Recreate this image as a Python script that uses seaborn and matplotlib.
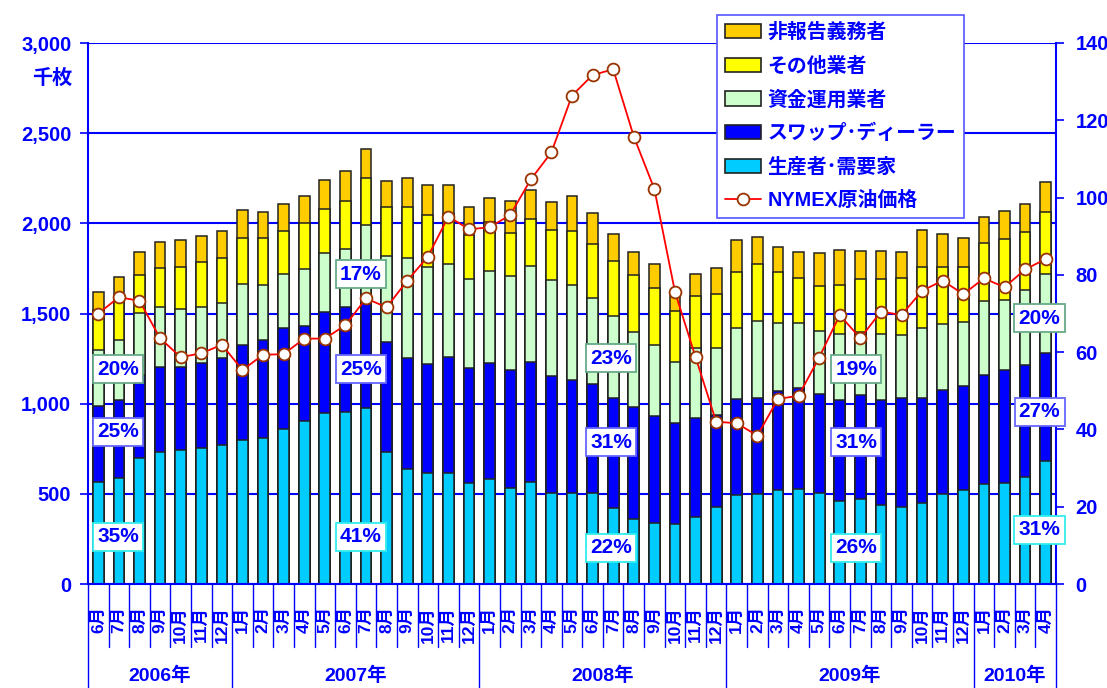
import numpy as np
import pandas as pd
import matplotlib
matplotlib.use("Agg")
import matplotlib.pyplot as plt
import matplotlib.transforms as mtrans
from matplotlib.patches import Patch
from matplotlib.lines import Line2D
import seaborn as sns

# ---------------- data ----------------
months = ["6月", "7月", "8月", "9月", "10月", "11月", "12月"] + \
         [f"{m}月" for m in range(1, 13)] * 3 + ["1月", "2月", "3月", "4月"]
years = ["2006年", "2007年", "2008年", "2009年", "2010年"]
year_counts = [7, 12, 12, 12, 4]

producers = [567, 590, 700, 730, 743, 756, 769, 797, 810, 859, 902, 948, 954, 974,
             732, 638, 617, 617, 562, 582, 531, 564, 503, 503, 503, 423, 359, 340,
             331, 373, 429, 493, 497, 521, 527, 503, 460, 470, 438, 429, 451, 499,
             521, 555, 558, 595, 684]
swap_dealers = [420, 430, 459, 475, 462, 471, 482, 528, 545, 559, 529, 560, 584, 596,
                612, 617, 601, 640, 634, 643, 656, 667, 650, 630, 604, 610, 621, 592,
                564, 546, 508, 532, 533, 549, 558, 549, 559, 578, 581, 602, 579, 575,
                575, 604, 629, 619, 599]
money_managers = [311, 333, 342, 329, 322, 311, 305, 338, 303, 301, 317, 329, 318, 421,
                  475, 554, 542, 516, 494, 512, 521, 532, 533, 525, 477, 455, 419, 393,
                  338, 388, 370, 396, 428, 375, 360, 353, 367, 351, 366, 350, 388, 368,
                  359, 410, 388, 416, 434]
other_reportables = [222, 237, 212, 216, 233, 249, 250, 257, 262, 238, 252, 242, 268, 262,
                     270, 283, 286, 277, 245, 272, 237, 261, 277, 299, 301, 303, 314, 315,
                     283, 290, 303, 311, 316, 283, 254, 247, 272, 291, 308, 314, 338, 314,
                     305, 324, 336, 324, 348]
nonreportables = [101, 111, 130, 145, 149, 141, 149, 156, 145, 148, 150, 159, 164, 159,
                  146, 158, 165, 164, 154, 133, 181, 159, 157, 196, 170, 150, 126, 133,
                  105, 120, 144, 175, 148, 139, 140, 183, 194, 155, 155, 146, 207, 183,
                  157, 144, 157, 151, 166]
crude_price = [70.0, 74.2, 73.3, 63.6, 58.7, 59.7, 61.9, 55.4, 59.3, 59.5, 63.5, 63.5,
               67.0, 73.9, 71.6, 78.5, 84.7, 95.1, 91.8, 92.3, 95.5, 104.7, 111.7, 126.4,
               131.7, 133.2, 115.8, 102.2, 75.6, 58.7, 42.0, 41.6, 38.4, 47.9, 48.7, 58.6,
               69.6, 63.6, 70.5, 69.6, 75.9, 78.5, 75.0, 79.1, 76.8, 81.4, 84.1]

series_names = ["非報告義務者", "その他業者", "資金運用業者", "スワップ･ディーラー", "生産者･需要家"]
price_name = "NYMEX原油価格"

# percentage callouts: (text, x index, y value, edge colour)
callouts = [("35%", 0.96, 261, "#33EEEE"), ("25%", 0.96, 843, "#6666FF"), ("20%", 0.96, 1192, "#66AA88"),
            ("41%", 12.75, 261, "#33EEEE"), ("25%", 12.75, 1192, "#6666FF"), ("17%", 12.75, 1719, "#66AA88"),
            ("22%", 24.9, 200, "#33EEEE"), ("31%", 24.9, 787, "#6666FF"), ("23%", 24.9, 1253, "#66AA88"),
            ("26%", 36.8, 200, "#33EEEE"), ("31%", 36.8, 787, "#6666FF"), ("19%", 36.8, 1192, "#66AA88"),
            ("31%", 45.7, 300, "#33EEEE"), ("27%", 45.7, 954, "#6666FF"), ("20%", 45.7, 1475, "#66AA88")]

# ---------------- style ----------------
sns.set_theme(style="white")
plt.rcParams["font.family"] = ["Liberation Sans", "Noto Sans CJK JP"]
plt.rcParams["font.weight"] = "bold"
BLUE = "#0000FF"
colors = ["#FFCC00", "#FFFF00", "#CCFFCC", "#0000FF", "#00CCFF"]

keys = [f"k{i:02d}" for i in range(len(months))]
df = pd.DataFrame({"key": keys, "p": producers, "s": swap_dealers, "m": money_managers,
                   "o": other_reportables, "n": nonreportables})
df["c1"] = df["p"]
df["c2"] = df["c1"] + df["s"]
df["c3"] = df["c2"] + df["m"]
df["c4"] = df["c3"] + df["o"]
df["c5"] = df["c4"] + df["n"]

fig = plt.figure(figsize=(11.07, 6.88), dpi=100)
ax = fig.add_axes([88 / 1107, 104 / 688, 968 / 1107, 541 / 688])

for col, colr in zip(["c5", "c4", "c3", "c2", "c1"], colors):
    sns.barplot(data=df, x="key", y=col, order=keys, color=colr, saturation=1,
                width=0.52, edgecolor="#222222", linewidth=1.1, errorbar=None, ax=ax)

ax.set_ylim(0, 3000)
ax.set_xlim(-0.5, len(keys) - 0.5)
ax.set_yticks(np.arange(0, 3001, 500))
ax.set_yticklabels([f"{v:,}" for v in range(0, 3001, 500)], color=BLUE, fontsize=14.5, fontweight="bold")
ax.yaxis.grid(True, color=BLUE, lw=1.5)
ax.set_axisbelow(True)
ax.set_xlabel("")
ax.set_ylabel("")
ax.set_xticks(range(len(keys)))
ax.set_xticklabels(months, rotation=90, color=BLUE, fontsize=12.5, fontweight="bold")
ax.tick_params(axis="x", length=0, pad=16)
ax.tick_params(axis="y", length=6, width=1.2, color=BLUE, direction="out", left=True, pad=6)
for s in ["left", "bottom"]:
    ax.spines[s].set_color(BLUE)
    ax.spines[s].set_linewidth(1.5)
ax.spines["top"].set_visible(False)
ax.spines["right"].set_visible(False)

# separators under the axis
trans = mtrans.blended_transform_factory(ax.transData, ax.transAxes)
year_bounds = set(np.cumsum([0] + year_counts) - 0.5)
for i in range(len(keys) + 1):
    xb = i - 0.5
    ybot = -0.195 if xb in year_bounds else -0.1165
    ax.plot([xb, xb], [0, ybot], transform=trans, clip_on=False, color=BLUE, lw=1)
start = 0
for yname, cnt in zip(years, year_counts):
    ax.text(start + (cnt - 1) / 2, -0.170, yname, transform=trans, ha="center", va="center",
            color=BLUE, fontsize=14, fontweight="bold")
    start += cnt

# price line on right axis
ax2 = ax.twinx()
sns.lineplot(x=np.arange(len(crude_price)), y=crude_price, ax=ax2, color="red", lw=1.3,
             marker="o", markersize=8.5, markerfacecolor="white", markeredgecolor="#993300",
             markeredgewidth=1.3, zorder=5)
ax2.set_ylim(0, 140)
ax2.set_xlim(-0.5, len(keys) - 0.5)
ax2.set_yticks(np.arange(0, 141, 20))
ax2.set_yticklabels([str(v) for v in range(0, 141, 20)], color=BLUE, fontsize=14.5, fontweight="bold")
ax2.tick_params(axis="y", length=6, width=1.2, color=BLUE, direction="out", right=True, pad=8)
ax2.set_ylabel("")
for s in ["left", "top", "bottom"]:
    ax2.spines[s].set_visible(False)
ax2.spines["right"].set_color(BLUE)
ax2.spines["right"].set_linewidth(1.5)

for txt, xi, yv, ec in callouts:
    ax2.text(xi, yv, txt, transform=ax.transData, ha="center", va="center", color=BLUE,
             fontsize=15, fontweight="bold", zorder=10,
             bbox=dict(boxstyle="square,pad=0.2", fc="white", ec=ec, lw=1.3))

fig.text(52 / 1107, 1 - 78 / 688, "千枚", ha="center", va="center", color=BLUE,
         fontsize=14.5, fontweight="bold")

handles = [Patch(facecolor=c, edgecolor="#222222", lw=1.2) for c in colors]
handles.append(Line2D([0], [0], color="red", lw=1.3, marker="o", markersize=8.5,
                      markerfacecolor="white", markeredgecolor="#993300", markeredgewidth=1.3))
leg = fig.legend(handles, series_names + [price_name], loc="upper left",
                 bbox_to_anchor=(717 / 1107, 1 - 15 / 688), frameon=True, fancybox=False,
                 edgecolor="#5555FF", framealpha=1, prop={"size": 14.3, "weight": "bold"},
                 labelcolor=BLUE, handlelength=1.8, handleheight=0.72, labelspacing=0.72,
                 borderpad=0.4, handletextpad=0.35, borderaxespad=0)
leg.get_frame().set_linewidth(1.2)
leg.set_zorder(20)

fig.savefig("out.png", dpi=100)
